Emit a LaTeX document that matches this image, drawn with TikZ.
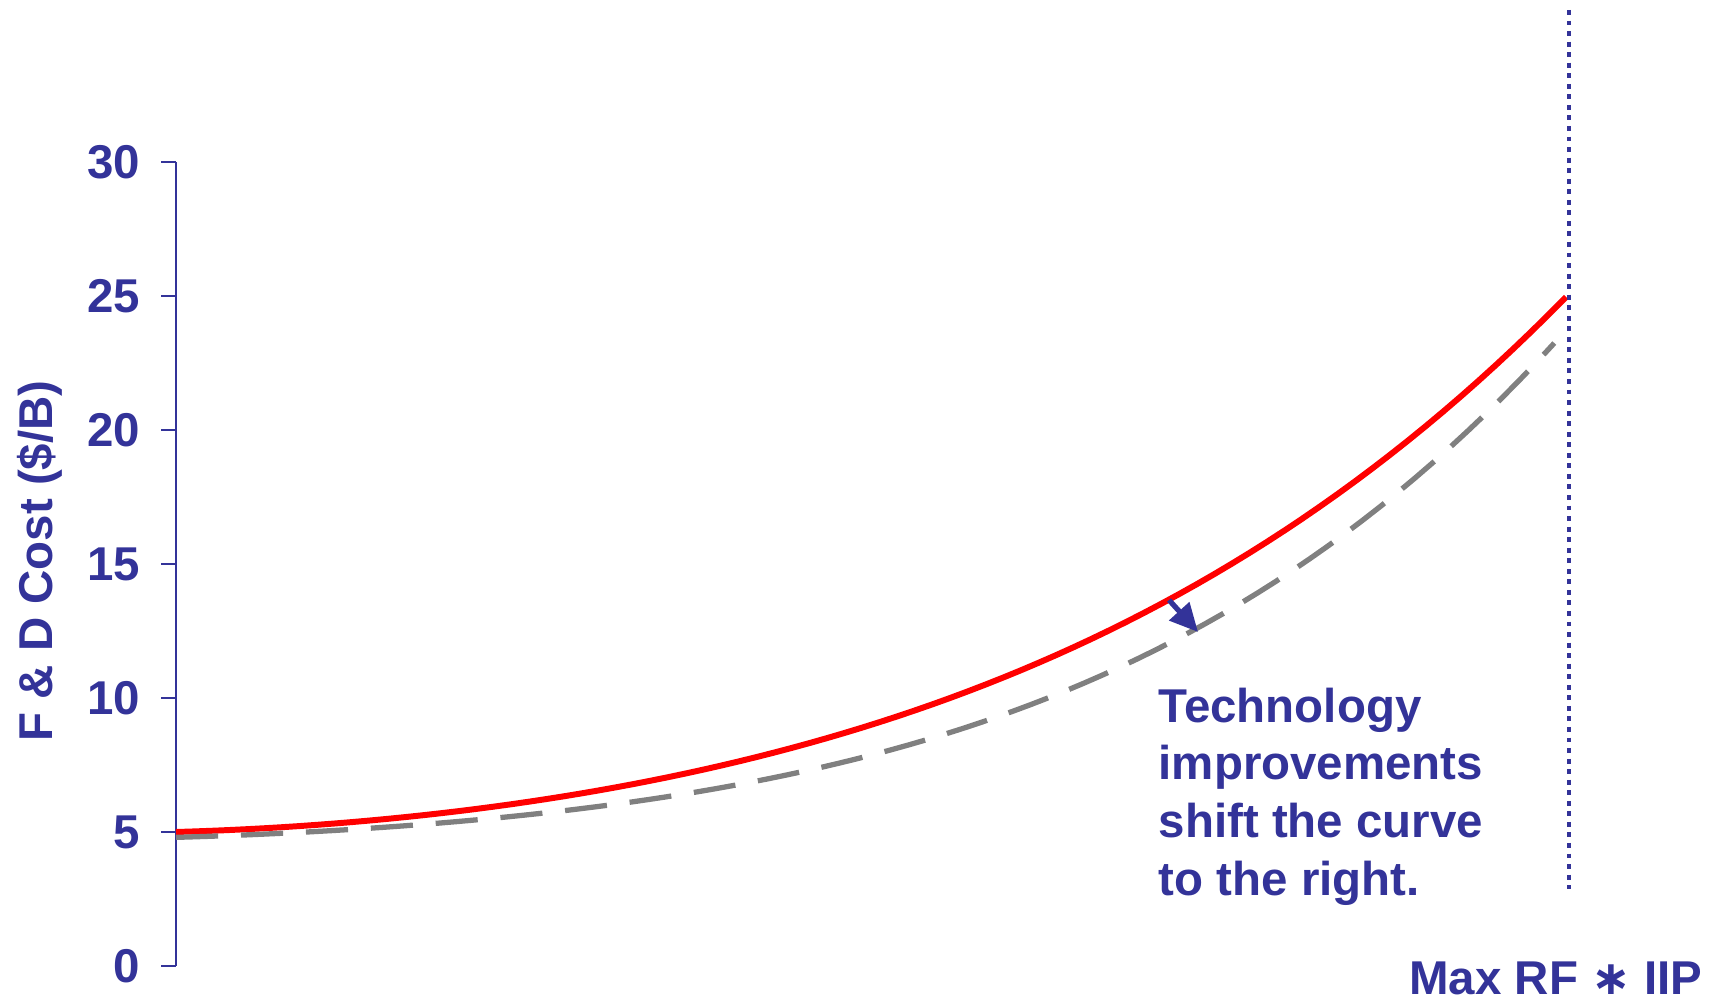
\documentclass[tikz,border=0pt]{standalone}
\usepackage{fontspec}
\setmainfont{Liberation Sans}
\newfontfamily\starfont{DejaVu Sans}
\usetikzlibrary{arrows.meta}
\definecolor{fdblue}{RGB}{51,51,153}
\definecolor{fdgray}{RGB}{128,128,128}
\begin{document}
\begin{tikzpicture}[font=\fontsize{13.5pt}{16.4pt}\selectfont\bfseries,
  every node/.style={text=fdblue, inner sep=0pt},
  axisline/.style={fdblue, line width=0.5pt},
  costcurve/.style={red, line width=1.7pt},
  techcurve/.style={fdgray, line width=1.5pt, dash pattern=on 12pt off 6.5pt}]
\useasboundingbox (0,0) rectangle (17.21,10.01);
\draw[axisline](1.76,0.35) -- (1.76,8.39);
\foreach \v in {0,5,...,30}{
  \draw[axisline](1.61,0.35+0.268*\v) -- (1.76,0.35+0.268*\v);
  \node[anchor=east] (tick\v) at (1.41,0.35+0.268*\v) {\v};
}
\node[rotate=90, anchor=base] (ylabel) at (0.52,4.40) {F \& D Cost (\$/B)};
% cost before and after the shift
\draw[costcurve] plot[domain=0:1, samples=80, variable=\t] ({1.76+13.91*\t},{0.35+0.268*(5+1.5*\t+11.19*\t^2+7.31*\t^4)});
\draw[techcurve] plot[domain=0:0.991, samples=80, variable=\t] ({1.76+13.91*\t},{0.35+0.268*(4.8+1.5*\t+6.56*\t^2+10.91*\t^4)});
\coordinate (shiftfrom) at (11.69,4.01);
\coordinate (shiftto) at (11.98,3.69);
\draw[fdblue, line width=1.5pt, -{Triangle[length=8pt,width=7.5pt]}] (shiftfrom) -- (shiftto);
\coordinate (maxtop) at (15.69,9.91);
\coordinate (maxbot) at (15.69,1.12);
\draw[fdblue, line width=1.15pt, dash pattern=on 1.4pt off 1.6pt] (maxtop) -- (maxbot);
\node[anchor=north west, align=left] (techtext) at (11.58,3.14) {Technology\\improvements\\shift the curve\\to the right.};
\node[anchor=base east] (xlabel) at (17.03,0.07) {Max RF {\starfont ∗} IIP};
\end{tikzpicture}
\end{document}
